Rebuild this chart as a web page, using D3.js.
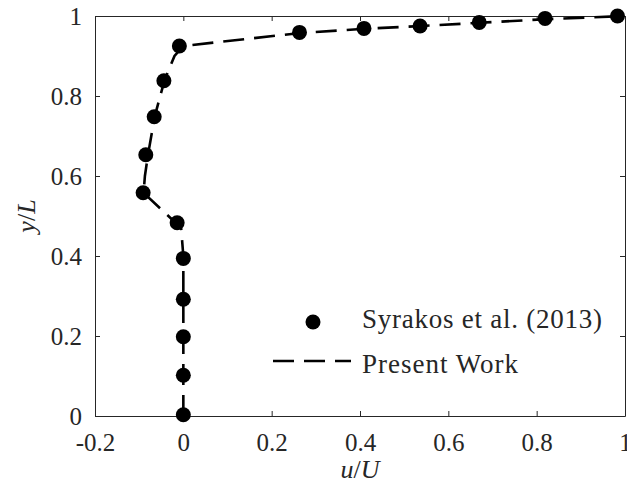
<!DOCTYPE html>
<html>
<head>
<meta charset="utf-8">
<script src="https://cdn.jsdelivr.net/npm/d3@7/dist/d3.min.js"></script>
<style>
  html, body { margin: 0; padding: 0; background: #fff; }
  svg { display: block; }
</style>
</head>
<body>
<svg id="chart" width="627" height="488"></svg>
<script>
// Reference data (Syrakos et al., 2013): u/U vs y/L
const refU = [0, 0, 0, 0, 0, -0.014, -0.091, -0.085, -0.066, -0.044, -0.009, 0.263, 0.409, 0.536, 0.670, 0.819, 0.983];
const refY = [0.003, 0.102, 0.198, 0.292, 0.394, 0.483, 0.558, 0.653, 0.748, 0.838, 0.925, 0.959, 0.969, 0.975, 0.984, 0.994, 1.0];

// Present simulation profile
const simU = [0, 0, 0, 0, 0, -0.005, -0.09, -0.087, -0.08, -0.065, -0.043, -0.02, 0.0, 0.26, 0.41, 0.54, 0.67, 0.82, 1.0];
const simY = [0, 0.1, 0.2, 0.3, 0.4, 0.47, 0.558, 0.6, 0.653, 0.748, 0.838, 0.9, 0.925, 0.957, 0.968, 0.975, 0.983, 0.992, 1.0];

const xTicks = [-0.2, 0, 0.2, 0.4, 0.6, 0.8, 1];
const xTickLabels = ["-0.2", "0", "0.2", "0.4", "0.6", "0.8", "1"];
const yTicks = [0, 0.2, 0.4, 0.6, 0.8, 1];
const yTickLabels = ["0", "0.2", "0.4", "0.6", "0.8", "1"];

const legendLabels = ["Syrakos et al. (2013)", "Present Work"];

const svg = d3.select("#chart");
const plot = { left: 95, right: 625, top: 16, bottom: 416 };
const serif = "Liberation Serif";

const x = d3.scaleLinear().domain([-0.2, 1]).range([plot.left, plot.right]);
const y = d3.scaleLinear().domain([0, 1]).range([plot.bottom, plot.top]);

const axisColor = "#262626";
const tickFont = 25;

function styleAxis(g) {
  g.attr("font-family", serif);
  g.select(".domain").attr("stroke", axisColor).attr("stroke-width", 1);
  g.selectAll(".tick line").attr("stroke", axisColor).attr("stroke-width", 1);
  g.selectAll("text").attr("fill", axisColor).attr("font-size", tickFont);
}

// Bottom axis with labels, inward ticks
svg.append("g")
  .attr("transform", `translate(0,${plot.bottom})`)
  .call(d3.axisBottom(x).tickValues(xTicks).tickFormat((d, i) => xTickLabels[i])
        .tickSizeInner(-5).tickSizeOuter(0).tickPadding(17))
  .call(styleAxis);

// Top axis mirror
svg.append("g")
  .attr("transform", `translate(0,${plot.top})`)
  .call(d3.axisTop(x).tickValues(xTicks).tickFormat("").tickSizeInner(-5).tickSizeOuter(0))
  .call(styleAxis);

// Left axis with labels
svg.append("g")
  .attr("transform", `translate(${plot.left},0)`)
  .call(d3.axisLeft(y).tickValues(yTicks).tickFormat((d, i) => yTickLabels[i])
        .tickSizeInner(-5).tickSizeOuter(0).tickPadding(13))
  .call(styleAxis);

// Right axis mirror
svg.append("g")
  .attr("transform", `translate(${plot.right},0)`)
  .call(d3.axisRight(y).tickValues(yTicks).tickFormat("").tickSizeInner(-5).tickSizeOuter(0))
  .call(styleAxis);

// Dashed simulation line
const line = d3.line().x((d, i) => x(simU[i])).y((d, i) => y(simY[i]));
svg.append("path")
  .datum(simU)
  .attr("d", line)
  .attr("fill", "none")
  .attr("stroke", "#000")
  .attr("stroke-width", 2.6)
  .attr("stroke-dasharray", "21,10");

// Reference markers
svg.append("g").selectAll("circle")
  .data(refU)
  .join("circle")
  .attr("cx", (d) => x(d))
  .attr("cy", (d, i) => y(refY[i]))
  .attr("r", 7.5)
  .attr("fill", "#000");

// Legend
const leg = svg.append("g").attr("font-family", serif).attr("fill", axisColor);
leg.append("circle").attr("cx", 313).attr("cy", 322).attr("r", 7.5).attr("fill", "#000");
leg.append("text").attr("x", 362).attr("y", 328).attr("font-size", 27)
  .attr("textLength", 240).attr("lengthAdjust", "spacing").text(legendLabels[0]);
leg.append("line").attr("x1", 273).attr("x2", 351).attr("y1", 361).attr("y2", 361)
  .attr("stroke", "#000").attr("stroke-width", 2.6).attr("stroke-dasharray", "21,10");
leg.append("text").attr("x", 362).attr("y", 373).attr("font-size", 27)
  .attr("textLength", 156).attr("lengthAdjust", "spacing").text(legendLabels[1]);

// Axis titles
const xt = svg.append("text").attr("x", (plot.left + plot.right) / 2).attr("y", 478)
  .attr("font-family", serif).attr("fill", axisColor).attr("text-anchor", "middle").attr("font-size", 26);
xt.append("tspan").attr("font-style", "italic").text("u");
xt.append("tspan").text("/");
xt.append("tspan").attr("font-style", "italic").text("U");

const yt = svg.append("text")
  .attr("transform", `translate(35,${(plot.top + plot.bottom) / 2}) rotate(-90)`)
  .attr("font-family", serif).attr("fill", axisColor).attr("text-anchor", "middle").attr("font-size", 26);
yt.append("tspan").attr("font-style", "italic").text("y");
yt.append("tspan").text("/");
yt.append("tspan").attr("font-style", "italic").text("L");
</script>
</body>
</html>
